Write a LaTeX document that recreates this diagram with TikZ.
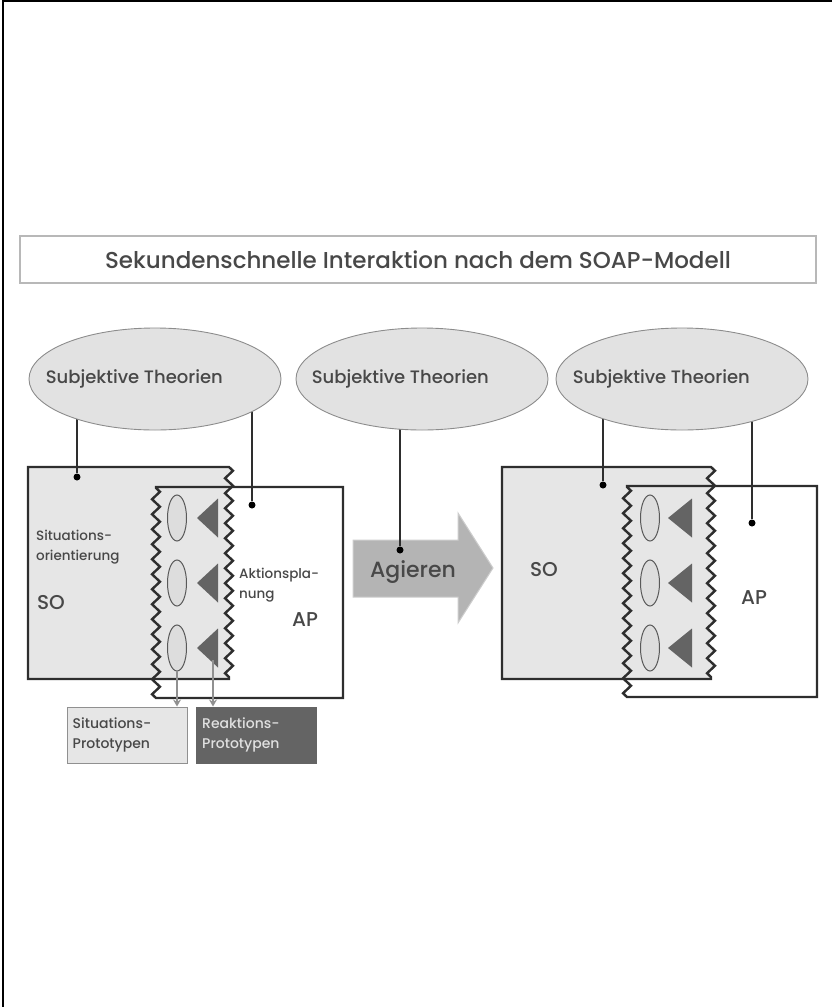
\documentclass[tikz,border=0pt]{standalone}
\usepackage{fontspec}
\setmainfont{Poppins}[UprightFont={* Medium}]
\usetikzlibrary{shapes.geometric,decorations.pathmorphing,arrows.meta}
\definecolor{sofill}{HTML}{E6E6E6}
\definecolor{theofill}{HTML}{E2E2E2}
\definecolor{theoline}{HTML}{8C8C8C}
\definecolor{boxline}{HTML}{2E2E2E}
\definecolor{txtgray}{HTML}{484848}
\definecolor{trigray}{HTML}{646464}
\definecolor{actfill}{HTML}{B4B4B4}
\definecolor{actline}{HTML}{CDCDCD}
\definecolor{protoline}{HTML}{909090}
\tikzset{
  titlebox/.style={draw=black!28, line width=1.4pt, minimum width=796pt, minimum height=47pt, inner sep=0pt, text=txtgray, font=\fontsize{23}{26}\selectfont},
  theo/.style={ellipse, draw=theoline, fill=theofill, line width=0.9pt, minimum width=252pt, minimum height=102pt, inner sep=0pt},
  theotxt/.style={anchor=west, inner sep=0pt, text=txtgray, font=\fontsize{18}{20}\selectfont},
  frame/.style={draw=boxline, line width=2.4pt},
  zz/.style={decorate, decoration={zigzag, segment length=15pt, amplitude=4pt}},
  dot/.style={circle, fill=black, inner sep=0pt, minimum size=7pt},
  link/.style={draw=boxline, line width=1.4pt},
  smallell/.style={draw=black!65, fill=sofill!96!black, line width=1pt},
  tri/.style={fill=trigray},
  lbl/.style={anchor=west, inner sep=0pt, align=left, text=txtgray, font=\fontsize{13.5}{20}\selectfont},
  big/.style={inner sep=0pt, text=txtgray, font=\fontsize{20}{24}\selectfont},
  proto/.style={draw=protoline, line width=1pt, minimum width=120pt, minimum height=56pt, inner sep=0pt},
  prototxt/.style={anchor=west, inner sep=0pt, align=left, font=\fontsize{14}{20}\selectfont},
  feed/.style={draw=protoline, line width=1.4pt, -{Stealth[length=7pt,width=8pt]}}
}
\begin{document}
\begin{tikzpicture}
\useasboundingbox (0,0) rectangle (832pt,-1007pt);
\draw[line width=2pt] (3pt,-1007pt) -- (3pt,-1pt) -- (832pt,-1pt);
% Titel
\node[titlebox] (title) at (418pt,-259.5pt) {Sekundenschnelle Interaktion nach dem SOAP-Modell};
% links: SO und AP
\filldraw[frame, fill=sofill] (28pt,-467pt) -- (229pt,-467pt) decorate[zz]{-- (229pt,-679pt)} -- (28pt,-679pt) -- cycle;
\draw[frame] (156pt,-698pt) decorate[zz]{-- (156pt,-487pt)} -- (343pt,-487pt) -- (343pt,-698pt) -- cycle;
\filldraw[smallell] (177pt,-518pt) ellipse (9.5pt and 23pt);
\filldraw[smallell] (177pt,-583pt) ellipse (9.5pt and 23pt);
\filldraw[smallell] (177pt,-648pt) ellipse (9.5pt and 23pt);
\fill[tri] (197pt,-518pt) -- (218pt,-498.5pt) -- (218pt,-537.5pt) -- cycle;
\fill[tri] (197pt,-583pt) -- (218pt,-563.5pt) -- (218pt,-602.5pt) -- cycle;
\fill[tri] (197pt,-648pt) -- (218pt,-628.5pt) -- (218pt,-667.5pt) -- cycle;
\node[lbl] (sotxt) at (36pt,-547pt) {Situations-\\orientierung};
\node[big] (so1) at (51pt,-603pt) {SO};
\node[lbl] (aptxt) at (239pt,-585pt) {Aktionspla-\\nung};
\node[big] (ap1) at (305pt,-620pt) {AP};
% Prototypen
\node[proto, fill=sofill] (sit) at (127pt,-735pt) {};
\node[prototxt, text=txtgray] (sittxt) at ([xshift=6pt]sit.west) {Situations-\\Prototypen};
\node[proto, fill=trigray, draw=trigray] (rea) at (256.5pt,-735pt) {};
\node[prototxt, text=black!12] (reatxt) at ([xshift=6pt]rea.west) {Reaktions-\\Prototypen};
\coordinate (se) at (177pt,-671pt);
\coordinate (st) at (213pt,-660pt);
\draw[feed] (se) -- (se |- sit.north);
\draw[feed] (st) -- (st |- rea.north);
% Agieren
\fill[actfill, draw=actline, line width=1pt] (353pt,-540pt) -- (458pt,-540pt) -- (458pt,-513pt) -- (493pt,-568pt) -- (458pt,-623pt) -- (458pt,-597pt) -- (353pt,-597pt) -- cycle;
\node[inner sep=0pt, text=txtgray, font=\fontsize{22}{24}\selectfont] (act) at (413pt,-572pt) {Agieren};
% rechts: SO und AP
\filldraw[frame, fill=sofill] (502pt,-467pt) -- (711pt,-467pt) decorate[zz]{-- (711pt,-679pt)} -- (502pt,-679pt) -- cycle;
\draw[frame] (627pt,-697pt) decorate[zz]{-- (627pt,-486pt)} -- (817pt,-486pt) -- (817pt,-697pt) -- cycle;
\filldraw[smallell] (650pt,-518pt) ellipse (9.5pt and 23pt);
\filldraw[smallell] (650pt,-583pt) ellipse (9.5pt and 23pt);
\filldraw[smallell] (650pt,-648pt) ellipse (9.5pt and 23pt);
\fill[tri] (668pt,-518pt) -- (692pt,-498.5pt) -- (692pt,-537.5pt) -- cycle;
\fill[tri] (668pt,-583pt) -- (692pt,-563.5pt) -- (692pt,-602.5pt) -- cycle;
\fill[tri] (668pt,-648pt) -- (692pt,-628.5pt) -- (692pt,-667.5pt) -- cycle;
\node[big] (so3) at (544pt,-570pt) {SO};
\node[big] (ap3) at (754pt,-598pt) {AP};
% Subjektive Theorien
\node[dot] (d1) at (77pt,-477pt) {};
\node[dot] (d2) at (252pt,-505pt) {};
\node[dot] (d3) at (400pt,-550pt) {};
\node[dot] (d4) at (603pt,-485pt) {};
\node[dot] (d5) at (752pt,-523pt) {};
\coordinate (e1c) at (155pt,-379pt);
\coordinate (e2c) at (422pt,-379pt);
\coordinate (e3c) at (682pt,-379pt);
\draw[link] (d1) -- (d1 |- e1c);
\draw[link] (d2) -- (d2 |- e1c);
\draw[link] (d3) -- (d3 |- e2c);
\draw[link] (d4) -- (d4 |- e3c);
\draw[link] (d5) -- (d5 |- e3c);
\node[theo] (e1) at (e1c) {};
\node[theo] (e2) at (e2c) {};
\node[theo] (e3) at (e3c) {};
\node[theotxt] (t1) at ([xshift=17pt]e1.west) {Subjektive Theorien};
\node[theotxt] (t2) at ([xshift=16pt]e2.west) {Subjektive Theorien};
\node[theotxt] (t3) at ([xshift=17pt]e3.west) {Subjektive Theorien};
\end{tikzpicture}
\end{document}
